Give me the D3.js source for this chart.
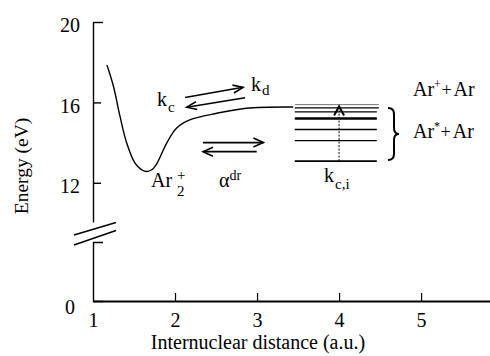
<!DOCTYPE html>
<html>
<head>
<meta charset="utf-8">
<script src="https://cdn.jsdelivr.net/npm/d3@7/dist/d3.min.js"></script>
<style>
  html, body { margin: 0; padding: 0; background: #fff; }
  svg { display: block; }
  text { font-family: "Liberation Serif", "Times New Roman", serif; fill: #000; }
</style>
</head>
<body>
<svg id="chart" width="490" height="356"></svg>
<script>
// Potential curve of the Ar2+ molecular ion (internuclear distance in a.u., energy in eV)
const curveR = [1.17, 1.25, 1.33, 1.41, 1.51, 1.59, 1.655, 1.72, 1.78, 1.90, 2.02, 2.18, 2.51, 2.87, 3.44];
const curveE = [17.86, 16.79, 15.29, 13.99, 12.99, 12.66, 12.56, 12.66, 12.97, 13.99, 14.73, 15.13, 15.46, 15.71, 15.77];

// Excited atomic levels Ar* + Ar (eV), drawn between R = 3.46 and 4.46
const levelE = [15.89, 15.73, 15.53, 15.20, 14.65, 14.10, 13.08];
const levelSpan = [3.46, 4.46];
const levelWidth = [0.8, 1.4, 1.4, 2.4, 1.4, 1.4, 1.6];

// Axis ticks
const xTicks = [1, 2, 3, 4, 5];
const yTicksUpper = [12, 16, 20];
const yTicksLower = [0];

// Rate-process arrows, [R1, E1, R2, E2] (head at the second point)
const kArrows = [[2.122, 16.24, 2.829, 16.75], [2.854, 16.23, 2.143, 15.76]];
const alphaArrows = [[2.341, 14.0, 3.077, 14.0], [2.996, 13.55, 2.341, 13.55]];
const excitation = [4.0, 13.08, 4.0, 15.80];

const svg = d3.select("#chart");

const x = d3.scaleLinear().domain([1, 5.84]).range([93, 490]);
const yU = d3.scaleLinear().domain([20, 10.05]).range([22, 222]);   // upper (broken) segment
const yL = d3.scaleLinear().domain([0, 2.95]).range([301, 242]);    // lower segment near zero

// X axis
const xAxis = d3.axisBottom(x).tickValues(xTicks).tickFormat(d3.format("d"))
  .tickSizeInner(-8).tickSizeOuter(0).tickPadding(12);
const gx = svg.append("g").attr("transform", "translate(0,301)").call(xAxis);
gx.select(".domain").attr("stroke-width", 1.8);
gx.selectAll(".tick line").attr("stroke-width", 1.2);
gx.selectAll(".tick text").attr("font-size", 20).attr("font-family", "Liberation Serif");
gx.selectAll(".tick").filter(d => d === 1).select("line").remove();

// Y axis, upper part
const yAxisU = d3.axisLeft(yU).tickValues(yTicksUpper).tickFormat(d3.format("d"))
  .tickSizeInner(-8).tickSizeOuter(0).tickPadding(13);
const gyU = svg.append("g").attr("transform", "translate(93,0)").call(yAxisU);
gyU.select(".domain").attr("stroke-width", 1.4);
gyU.selectAll(".tick line").attr("stroke-width", 1.4);
gyU.selectAll(".tick").filter(d => d === 20).select("line").attr("x2", 10);
gyU.selectAll(".tick text").attr("font-size", 20).attr("font-family", "Liberation Serif").attr("dy", "0.48em");

// Y axis, lower part (short tick at its top end)
const yAxisL = d3.axisLeft(yL).tickValues(yTicksLower).tickFormat(d3.format("d"))
  .tickSizeInner(0).tickSizeOuter(-10).tickPadding(18);
const gyL = svg.append("g").attr("transform", "translate(93,0)").call(yAxisL);
gyL.select(".domain").attr("stroke-width", 1.4);
gyL.selectAll(".tick text").attr("font-size", 20).attr("font-family", "Liberation Serif").attr("dy", "0.6em");

// Axis break marks
const brk = svg.append("g").attr("stroke", "#000").attr("stroke-width", 1.4);
brk.append("line").attr("x1", 74).attr("y1", 235).attr("x2", 116).attr("y2", 222.5);
brk.append("line").attr("x1", 74).attr("y1", 245).attr("x2", 116).attr("y2", 230.5);

// Axis titles
svg.append("text").attr("x", 258).attr("y", 349).attr("text-anchor", "middle")
  .attr("font-size", 20).text("Internuclear distance (a.u.)");
svg.append("text").attr("transform", "translate(28,166) rotate(-90)").attr("text-anchor", "middle")
  .attr("font-size", 19.5).text("Energy (eV)");

// Potential curve
const pts = curveR.map((r, i) => [r, curveE[i]]);
svg.append("path").datum(pts)
  .attr("fill", "none").attr("stroke", "#000").attr("stroke-width", 1.4)
  .attr("d", d3.line().x(d => x(d[0])).y(d => yU(d[1])).curve(d3.curveCatmullRom.alpha(0.5)));

// Level lines
svg.append("g").selectAll("line").data(levelE).join("line")
  .attr("x1", x(levelSpan[0])).attr("x2", (d, i) => x(levelSpan[1]) + (i < 2 ? 2 : 0))
  .attr("y1", d => yU(d)).attr("y2", d => yU(d))
  .attr("stroke", (d, i) => i === 0 ? "#555" : "#000")
  .attr("stroke-width", (d, i) => levelWidth[i]);

// Arrow helper
function arrow(g, a, len, half) {
  const x1 = x(a[0]), y1 = yU(a[1]), x2 = x(a[2]), y2 = yU(a[3]);
  const ang = Math.atan2(y2 - y1, x2 - x1);
  g.append("line").attr("x1", x1).attr("y1", y1).attr("x2", x2).attr("y2", y2);
  const hx1 = x2 - len * Math.cos(ang) + half * Math.sin(ang);
  const hy1 = y2 - len * Math.sin(ang) - half * Math.cos(ang);
  const hx2 = x2 - len * Math.cos(ang) - half * Math.sin(ang);
  const hy2 = y2 - len * Math.sin(ang) + half * Math.cos(ang);
  g.append("path").attr("fill", "none")
    .attr("d", `M${hx1},${hy1}L${x2},${y2}L${hx2},${hy2}`);
}
const ag = svg.append("g").attr("stroke", "#000").attr("stroke-width", 1.6)
  .attr("stroke-linejoin", "miter");
kArrows.forEach(a => arrow(ag, a, 10, 4));
alphaArrows.forEach(a => arrow(ag, a, 10, 4.5));

// Excitation (dotted vertical with head)
svg.append("line")
  .attr("x1", x(excitation[0])).attr("x2", x(excitation[2]))
  .attr("y1", yU(excitation[1])).attr("y2", yU(excitation[3]) + 4)
  .attr("stroke", "#000").attr("stroke-width", 1).attr("stroke-dasharray", "2,1.5");
{
  const ax = x(excitation[2]), ay = yU(excitation[3]);
  svg.append("path").attr("d", `M${ax - 5},${ay + 9}L${ax},${ay}L${ax + 5},${ay + 9}`)
    .attr("fill", "none").attr("stroke", "#000").attr("stroke-width", 2);
}

// Brace grouping the excited levels
svg.append("path")
  .attr("d", "M388,108 Q394,108 394,114 L394,128 Q394,134 399,134 Q394,134 394,140 L394,154 Q394,160 388,160")
  .attr("fill", "none").attr("stroke", "#000").attr("stroke-width", 2);

// Labels with sub/superscripts
function label(px, py, parts) {
  const t = svg.append("text").attr("x", px).attr("y", py).attr("font-size", 20);
  parts.forEach(p => {
    const s = t.append("tspan").text(p.t);
    if (p.fs) s.attr("font-size", p.fs);
    if (p.dx !== undefined) s.attr("dx", p.dx);
    if (p.dy !== undefined) s.attr("dy", p.dy);
  });
  return t;
}
label(157, 106, [{t: "k"}, {t: "c", fs: 15, dy: 6, dx: 1}]);
label(251, 91, [{t: "k"}, {t: "d", fs: 15, dy: 4, dx: 1}]);
label(151, 187, [{t: "Ar"}]);
label(177, 180, [{t: "+", fs: 15}]);
label(177, 196, [{t: "2", fs: 15}]);
label(219, 187, [{t: "\u03B1"}, {t: "dr", fs: 14, dy: -7, dx: 0}]);
label(324, 182, [{t: "k"}, {t: "c,i", fs: 15, dy: 7, dx: 1}]);

// Product channels: ion + atom, excited atom + atom
label(413, 96, [{t: "Ar"}, {t: "+", fs: 12, dy: -8, dx: 0}, {t: "+", fs: 18, dy: 8, dx: 0.5}, {t: "Ar", dx: 2}]);
label(413, 138, [{t: "Ar"}, {t: "*", fs: 12, dy: -8, dx: 0}, {t: "+", fs: 18, dy: 8, dx: 0.5}, {t: "Ar", dx: 2}]);
</script>
</body>
</html>
